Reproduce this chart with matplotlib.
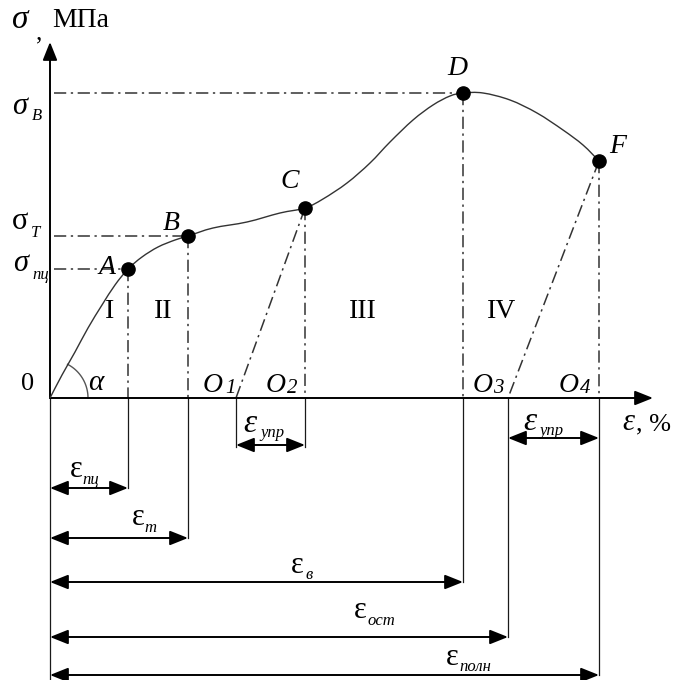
import numpy as np
import matplotlib.pyplot as plt
from matplotlib.path import Path
from matplotlib.patches import PathPatch

plt.rcParams['font.family'] = ['Liberation Serif', 'DejaVu Serif']

# stress-strain curve (strain in %, stress in MPa)
strain = [0.0, 0.24, 0.50, 0.76, 1.04, 1.30, 1.56, 1.84, 2.16, 2.50, 2.76,
          3.26, 3.94, 4.60, 5.10, 5.46, 5.94, 6.40, 6.80, 7.26, 7.66, 8.00,
          8.26, 8.66, 9.20, 9.74, 10.26, 10.66, 10.98]
stress = [0, 46, 92, 140, 186, 226, 258, 282, 302, 316, 324,
          340, 352, 370, 380, 398, 430, 470, 512, 556, 586, 604,
          610, 610, 596, 570, 536, 506, 474]

# characteristic points
pt_names = ['A', 'B', 'C', 'D', 'F']
pt_strain = [1.56, 2.76, 5.10, 8.26, 10.98]
pt_stress = [258, 324, 380, 610, 474]

# unloading points O1..O4 on the strain axis
unload_names = ['1', '2', '3', '4']
unload_strain = [3.72, 5.10, 9.16, 10.98]

stage_names = ['I', 'II', 'III', 'IV']

INK = '#1a1a1a'
DASHDOT = (0, (8, 3, 1.5, 3))

fig = plt.figure(figsize=(6.77, 6.8), dpi=100)
ax = fig.add_axes([0, 0, 1, 1])
ax.set_xlim(-1.0, 12.54)
ax.set_ylim(-564, 796)
ax.axis('off')

A, B, C, D, F = [(x, y) for x, y in zip(pt_strain, pt_stress)]
O1, O2, O3, O4 = unload_strain


def arrow(p0, p1, style, lw=1.4):
    ax.annotate('', xy=p1, xytext=p0,
                arrowprops=dict(arrowstyle=style + ',head_length=0.55,head_width=0.22',
                                mutation_scale=20, lw=lw, color='black',
                                shrinkA=0, shrinkB=0))


def smooth_path(xs, ys):
    # Catmull-Rom through the points, drawn as cubic Bezier segments
    p = np.column_stack([xs, ys]).astype(float)
    p = np.vstack([p[0], p, p[-1]])
    verts = [p[1]]
    codes = [Path.MOVETO]
    for i in range(1, len(p) - 2):
        c1 = p[i] + (p[i + 1] - p[i - 1]) / 6.0
        c2 = p[i + 1] - (p[i + 2] - p[i]) / 6.0
        verts += [c1, c2, p[i + 1]]
        codes += [Path.CURVE4] * 3
    return Path(verts, codes)


# axes with arrows
arrow((0, 0), (0, 712), '-|>')
arrow((0, 0), (12.06, 0), '-|>')

# curve and points
ax.add_patch(PathPatch(smooth_path(strain, stress), fill=False,
                       edgecolor='#333333', lw=1.0, zorder=3))
ax.plot(pt_strain, pt_stress, 'o', color='black', ms=9.5, zorder=4)

# dash-dot guides
for (x, y) in [A, B, D]:
    ax.plot([0.08, x], [y, y], color='#333333', lw=1.1, ls=DASHDOT)
for (x, y) in [A, B, C, D, F]:
    ax.plot([x, x], [y, 0], color='#333333', lw=1.1, ls=DASHDOT)
ax.plot([C[0], O1], [C[1], 0], color='#333333', lw=1.1, ls=DASHDOT)
ax.plot([F[0], O3], [F[1], 0], color='#333333', lw=1.1, ls=DASHDOT)

# angle alpha (circular on screen: 50 px per % and 0.5 px per MPa)
ang = np.arctan2((stress[1] - stress[0]) / 2.0, (strain[1] - strain[0]) * 50.0)
t = np.linspace(0, ang, 40)
r_px = 38
ax.plot(r_px * np.cos(t) / 50.0, r_px * np.sin(t) * 2.0, color='#555555', lw=1.0)

# dimension lines below the strain axis
rows = {'upr': -94, 'pc': -180, 't': -280, 'v': -368, 'ost': -478, 'poln': -554}
ext = [(0, -564), (A[0], rows['pc']), (B[0], rows['t']), (O1, rows['upr'] - 4),
       (O2, rows['upr'] - 4), (D[0], rows['v']), (O3, rows['ost']),
       (O4, rows['poln'])]
for x, y in ext:
    ax.plot([x, x], [0, y], color=INK, lw=0.9)

arrow((0, rows['pc']), (A[0], rows['pc']), '<|-|>')
arrow((0, rows['t']), (B[0], rows['t']), '<|-|>')
arrow((0, rows['v']), (D[0], rows['v']), '<|-|>')
arrow((0, rows['ost']), (O3, rows['ost']), '<|-|>')
arrow((0, rows['poln']), (O4, rows['poln']), '<|-|>')
arrow((O1, rows['upr']), (O2, rows['upr']), '<|-|>')
arrow((O3, rows['upr'] + 14), (O4, rows['upr'] + 14), '<|-|>')


def txt(x, y, s, size, italic=False, ha='center'):
    ax.text(x, y, s, fontsize=size, style='italic' if italic else 'normal',
            ha=ha, va='baseline', color='black')


# axis titles
txt(-0.6, 740, 'σ', 24, italic=True)
txt(-0.22, 718, ',', 18)
txt(0.62, 742, 'МПа', 20)
txt(11.56, -64, 'ε', 22, italic=True)
txt(11.72, -64, ', %', 19, ha='left')
txt(-0.44, 16, '0', 19)
txt(0.92, 16, 'α', 21, italic=True)

# stress levels
txt(-0.6, 568, 'σ', 22, italic=True)
txt(-0.26, 556, 'B', 12, italic=True)
txt(-0.6, 338, 'σ', 22)
txt(-0.28, 322, 'T', 12, italic=True)
txt(-0.58, 254, 'σ', 22, italic=True)
txt(-0.18, 238, 'пц', 12, italic=True)

# point labels
label_pos = [(1.15, 248), (2.42, 336), (4.8, 420), (8.14, 646), (11.36, 490)]
for name, (x, y) in zip(pt_names, label_pos):
    txt(x, y, name, 20, italic=True)

# stage numerals
for name, x in zip(stage_names, [1.2, 2.26, 6.26, 9.04]):
    txt(x, 160, name, 20)

# unloading point labels
o_pos = [3.26, 4.52, 8.65, 10.37]
d_pos = [3.6, 4.84, 8.96, 10.7]
for n, xo, xd in zip(unload_names, o_pos, d_pos):
    txt(xo, 12, 'O', 20, italic=True)
    txt(xd, 10, n, 15, italic=True)

# elastic strain labels
txt(4.0, -68, 'ε', 24, italic=True)
txt(4.44, -78, 'упр', 12, italic=True)
txt(9.6, -64, 'ε', 24, italic=True)
txt(10.02, -74, 'упр', 12, italic=True)

# strain dimension labels
dims = [(0.52, -158, 0.82, -172, 'пц'),
        (1.76, -254, 2.0, -268, 'т'),
        (4.94, -350, 5.18, -362, 'в'),
        (6.2, -440, 6.62, -454, 'ост'),
        (8.04, -534, 8.5, -546, 'полн')]
for x, y, xs, ys, sub in dims:
    txt(x, y, 'ε', 22)
    txt(xs, ys, sub, 12, italic=True)

fig.savefig('out.png', dpi=100)
